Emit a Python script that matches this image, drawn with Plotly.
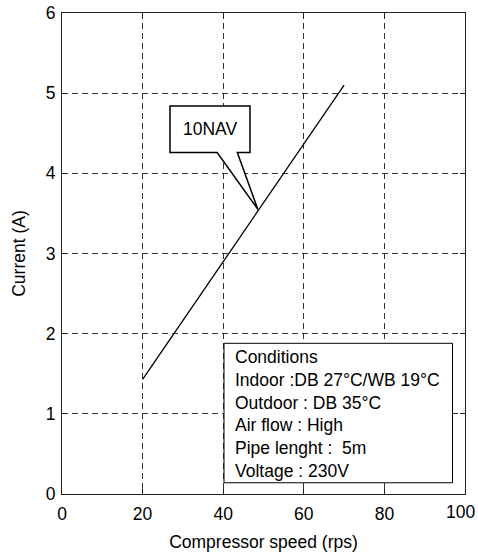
import plotly.graph_objects as go

# Data
speed_rps = [20, 70]
current_a = [1.43, 5.1]
series_label = "10NAV"
x_ticks = [0, 20, 40, 60, 80, 100]
x_tick_labels = ["0", "20", "40", "60", "80", "100"]
y_ticks = [0, 1, 2, 3, 4, 5, 6]
conditions_lines = [
    "Conditions",
    "Indoor :DB 27°C/WB 19°C",
    "Outdoor : DB 35°C",
    "Air flow : High",
    "Pipe lenght :  5m",
    "Voltage : 230V",
]

FONT = "Liberation Sans, Arial, sans-serif"
FS = 17.5

fig = go.Figure()
fig.add_trace(go.Scatter(x=speed_rps, y=current_a, mode="lines",
                         line=dict(color="black", width=1.3), showlegend=False,
                         hoverinfo="skip"))

# Callout box with pointer (data coords)
bx0, bx1, by0, by1 = 26.8, 46.65, 4.26, 4.84
p0, p1 = 38.5, 43.5
ax_, ay_ = 48.6, 3.55
path = (f"M {p0},{by0} L {bx0},{by0} L {bx0},{by1} L {bx1},{by1} L {bx1},{by0} "
        f"L {p1},{by0} L {ax_},{ay_} Z")
fig.add_shape(type="path", path=path, xref="x", yref="y",
              line=dict(color="black", width=1.5), fillcolor="white", layer="above")
fig.add_annotation(x=(bx0 + bx1) / 2, y=(by0 + by1) / 2, xref="x", yref="y",
                   text=series_label, showarrow=False,
                   font=dict(family=FONT, size=FS, color="black"))

# Conditions box
fig.add_shape(type="rect", x0=40.2, x1=96.9, y0=0.14, y1=1.88, xref="x", yref="y",
              line=dict(color="black", width=1), fillcolor="white", layer="above")
fig.add_annotation(x=42.4, y=1.86, xref="x", yref="y", xanchor="left", yanchor="top",
                   align="left", text="<br>".join(conditions_lines), showarrow=False,
                   font=dict(family=FONT, size=FS, color="black"))

axis_common = dict(
    showline=True, linecolor="#222", linewidth=1, mirror="ticks",
    ticks="inside", ticklen=5, tickcolor="#222", tickwidth=1,
    showgrid=True, gridcolor="#333", gridwidth=1, griddash="6px,4px",
    zeroline=False, tickfont=dict(family=FONT, size=FS, color="black"),
    ticklabeloverflow="allow", automargin=False,
)

# last x tick label is placed as an annotation so it stays inside the page
tick_text_axis = x_tick_labels[:-1] + [""]
fig.update_xaxes(range=[0, 100], tickvals=x_ticks, ticktext=tick_text_axis,
                 ticklabelstandoff=4,
                 title=dict(text="Compressor speed (rps)",
                            font=dict(family=FONT, size=FS, color="black"), standoff=12),
                 **axis_common)
fig.add_annotation(x=x_ticks[-1], y=0, xref="x", yref="y", xanchor="right", yanchor="top",
                   xshift=11, yshift=-7, text=x_tick_labels[-1], showarrow=False,
                   borderpad=0, font=dict(family=FONT, size=FS, color="black"))
fig.update_yaxes(range=[0, 6], tickvals=y_ticks, ticklabelstandoff=2,
                 title=dict(text="Current (A)",
                            font=dict(family=FONT, size=FS, color="black"), standoff=15),
                 **axis_common)

fig.update_layout(width=478, height=557, margin=dict(l=62, r=13, t=13, b=63),
                  plot_bgcolor="white", paper_bgcolor="white",
                  font=dict(family=FONT, size=FS, color="black"))

fig.write_html("out.html")
